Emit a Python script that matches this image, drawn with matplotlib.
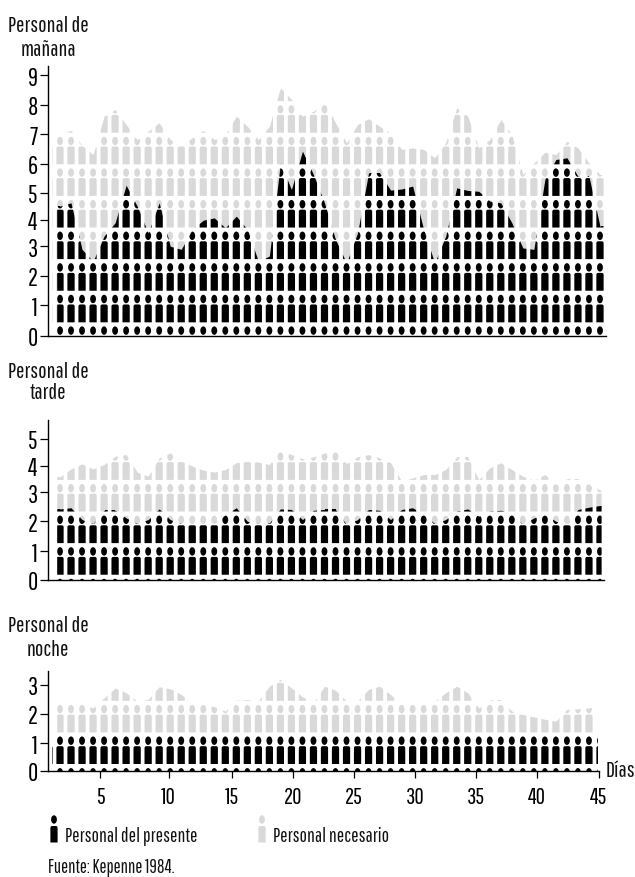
#!/usr/bin/env python3
"""Staff present vs staff needed per shift, drawn as areas seen through a grid of people."""

import numpy as np
import matplotlib
matplotlib.use('Agg')
import matplotlib.pyplot as plt
from matplotlib.path import Path
from matplotlib.patches import PathPatch
from matplotlib.transforms import Affine2D

plt.rcParams['font.family'] = ['Pathway Gothic One', 'DejaVu Sans']

# one value per pictogram column
manana_need = [6.95, 7.10, 6.57, 6.26, 7.59, 7.82, 7.30, 6.78, 7.07, 7.36,
               6.78, 6.57, 6.84, 7.10, 6.78, 6.95, 7.59, 7.24, 6.78, 7.24,
               8.57, 8.17, 7.59, 7.76, 8.11, 7.36, 6.67, 7.30, 7.50, 7.24,
               6.99, 6.44, 6.49, 6.44, 6.15, 6.67, 7.88, 7.59, 6.49, 6.78,
               7.47, 6.95, 5.57, 5.97, 6.34, 6.26, 6.72, 6.49, 5.97, 5.57]
manana_present = [4.48, 4.59, 2.98, 2.57, 3.44, 3.90, 5.20, 4.48, 3.55, 4.59,
                  3.09, 2.98, 3.67, 3.99, 4.07, 3.73, 4.13, 3.67, 2.57, 2.75,
                  5.97, 5.05, 6.38, 5.57, 4.59, 3.32, 2.51, 3.55, 5.63, 5.63,
                  5.03, 5.07, 5.17, 3.67, 2.51, 3.44, 5.11, 5.02, 4.99, 4.65,
                  4.59, 3.90, 3.03, 2.98, 5.40, 6.09, 6.15, 5.51, 5.51, 3.78]
tarde_need = [3.65, 3.93, 4.11, 3.93, 4.09, 4.38, 4.44, 3.82, 3.67, 4.32,
              4.50, 4.21, 4.03, 3.89, 3.82, 3.91, 4.15, 4.24, 4.17, 4.09,
              4.62, 4.44, 4.29, 4.36, 4.50, 4.56, 4.12, 4.36, 4.44, 4.32,
              4.15, 3.50, 3.61, 3.73, 3.73, 3.91, 4.36, 4.36, 3.55, 3.97,
              4.15, 3.91, 3.67, 3.53, 3.73, 3.38, 3.58, 3.58, 3.38, 3.18]
tarde_present = [2.51, 2.55, 2.13, 1.99, 2.46, 2.46, 2.19, 1.99, 2.13, 2.51,
                 2.13, 1.99, 1.95, 1.95, 1.95, 2.31, 2.55, 2.07, 1.99, 2.01,
                 2.51, 2.49, 2.13, 2.46, 2.49, 2.49, 1.95, 2.13, 2.49, 2.46,
                 2.13, 2.49, 2.55, 2.31, 1.99, 2.13, 2.43, 2.51, 2.25, 2.43,
                 2.46, 2.35, 1.95, 2.19, 2.31, 2.07, 1.95, 2.49, 2.57, 2.63]
noche_need = [2.37, 2.46, 2.31, 2.19, 2.54, 2.89, 2.72, 2.43, 2.49, 2.93,
              2.86, 2.66, 2.37, 2.33, 2.23, 2.08, 2.46, 2.49, 2.43, 2.95,
              3.19, 2.89, 2.58, 2.37, 2.95, 2.81, 2.43, 2.43, 2.84, 2.95,
              2.66, 2.31, 2.31, 2.31, 2.43, 2.72, 2.95, 2.72, 2.19, 2.46,
              2.46, 2.08, 1.96, 1.88, 1.79, 1.73, 2.14, 2.16, 2.19, 2.19]
noche_present = [1.25, 1.25, 1.25, 1.25, 1.25, 1.25, 1.25, 1.25, 1.25, 1.25,
                 1.25, 1.25, 1.25, 1.25, 1.25, 1.25, 1.25, 1.25, 1.25, 1.25,
                 1.25, 1.25, 1.25, 1.25, 1.25, 1.25, 1.25, 1.25, 1.25, 1.25,
                 1.25, 1.25, 1.25, 1.25, 1.25, 1.25, 1.25, 1.25, 1.25, 1.25,
                 1.25, 1.25, 1.25, 1.25, 1.25, 1.25, 1.25, 1.25, 1.25, 1.25]

day_labels = ['5', '10', '15', '20', '25', '30', '35', '40', '45']
day_ticks = [3.63, 9.86, 15.58, 21.12, 26.68, 32.21, 37.75, 43.31, 48.88]  # the source axis is uneven

GRAY = '#d9d9d9'
W, H = 635, 878
COL0, COL_STEP = 60.0, 11.02
LEFT, RIGHT = 47.5, 605.7

# flip y so everything placed by hand can use image pixels
px_trans = Affine2D().scale(1, -1).translate(0, H)


def person_path(cx, head_y, body_top, body_bottom):
    """Head ellipse and a round shouldered body, in image pixels."""
    hw = 3.6
    r = 1.8
    verts = [(cx - hw, body_bottom), (cx + hw, body_bottom), (cx + hw, body_top + r),
             (cx + hw, body_top), (cx + hw - r, body_top), (cx - hw + r, body_top),
             (cx - hw, body_top), (cx - hw, body_top + r), (cx - hw, body_bottom)]
    codes = [Path.MOVETO, Path.LINETO, Path.LINETO, Path.CURVE3, Path.CURVE3,
             Path.LINETO, Path.CURVE3, Path.CURVE3, Path.CLOSEPOLY]
    body = Path(verts, codes)
    head = Path.unit_circle().transformed(Affine2D().scale(2.9, 4.2).translate(cx, head_y))
    return Path.make_compound_path(body, head)


def crowd_path(first_body_bottom, rows):
    """All pictograms of one panel, first row sits on the axis."""
    people = []
    for i in range(-1, 50):
        cx = COL0 + COL_STEP * i
        for k in range(rows):
            bottom = first_body_bottom - 31.6 * k
            people.append(person_path(cx, bottom - 23.3, bottom - 17.8, bottom))
    return Path.make_compound_path(*people)


def area_through(ax, values, start, end, color, crowd, zorder):
    cols = np.arange(len(values), dtype=float)
    keep = (cols > start) & (cols < end)
    x = np.concatenate([[start], cols[keep], [end]])
    y = np.concatenate([[values[0]], np.array(values)[keep], [np.interp(end, cols, values)]])
    area = ax.fill_between(x, 0, y, color=color, linewidth=0, zorder=zorder)
    area.set_clip_path(crowd, px_trans)


def make_panel(fig, base, top, scale, y_ticks, y_labels, right):
    ax = fig.add_axes([LEFT / W, 1 - base / H, (RIGHT - LEFT) / W, (base - top) / H])
    ax.set_xlim((LEFT - COL0) / COL_STEP, (RIGHT - COL0) / COL_STEP)
    ax.set_ylim(0, (base - top) / scale)
    ax.set_yticks(y_ticks, y_labels)
    ax.spines['top'].set_visible(False)
    ax.spines['right'].set_visible(False)
    ax.spines['left'].set_linewidth(1.0)
    ax.spines['bottom'].set_linewidth(1.0)
    ax.spines['bottom'].set_bounds((LEFT - COL0) / COL_STEP, (right - COL0) / COL_STEP)
    ax.tick_params(axis='y', length=5.5, width=0.9, pad=1.5, labelsize=18)
    ax.patch.set_alpha(0)
    return ax


def label(x, y, text, size, ha='center'):
    fig.text(x / W, 1 - y / H, text, fontsize=size, ha=ha, va='center', color='#111111')


fig = plt.figure(figsize=(W / 100, H / 100), dpi=100)

# mañana
ax1 = make_panel(fig, 336.5, 67, 28.9,
                 [0, 1.05, 2.07, 3.08, 4.01, 4.94, 5.95, 6.96, 7.99, 9.0],
                 list('0123456789'), RIGHT)
crowd1 = crowd_path(323.3 + 31.6, 10)
area_through(ax1, manana_need, -0.75, 49.4, GRAY, crowd1, 2)
area_through(ax1, manana_present, -0.3, 49.4, 'black', crowd1, 3)
ax1.set_xticks([])

# tarde
ax2 = make_panel(fig, 580.5, 421, 28.13,
                 [0, 1.01, 2.07, 3.10, 4.05, 5.0], list('012345'), 603.5)
crowd2 = crowd_path(575.7 + 31.6, 7)
area_through(ax2, tarde_need, -0.3, 49.1, GRAY, crowd2, 2)
area_through(ax2, tarde_present, -0.3, 49.1, 'black', crowd2, 3)
ax2.set_xticks([])

# noche
ax3 = make_panel(fig, 771.5, 672, 28.57, [0, 0.95, 1.98, 3.0], list('0123'), 598.7)
crowd3 = crowd_path(765 + 31.6, 5)
area_through(ax3, noche_need, -0.3, 48.4, GRAY, crowd3, 2)
area_through(ax3, noche_present, -0.75, 48.8, 'black', crowd3, 3)
ax3.set_xticks(day_ticks, day_labels)
ax3.tick_params(axis='x', length=5, width=0.9, pad=6, labelsize=16.5)

for y, text in [(26, 'Personal de'), (50, 'mañana'), (372, 'Personal de'), (393, 'tarde'),
                (626, 'Personal de'), (650, 'noche')]:
    label(48, y, text, 16)
label(620, 771, 'Días', 16)

# legend, the pictograms are the keys
fig.add_artist(PathPatch(person_path(54, 820.5, 827, 843.5), facecolor='black',
                         edgecolor='none', transform=px_trans))
fig.add_artist(PathPatch(person_path(262, 820.5, 827, 843.5), facecolor=GRAY,
                         edgecolor='none', transform=px_trans))
label(65, 837, 'Personal del presente', 14, ha='left')
label(273, 837, 'Personal necesario', 14, ha='left')
label(48, 868, 'Fuente: Kepenne 1984.', 13.4, ha='left')

fig.savefig('out.png', dpi=100)
